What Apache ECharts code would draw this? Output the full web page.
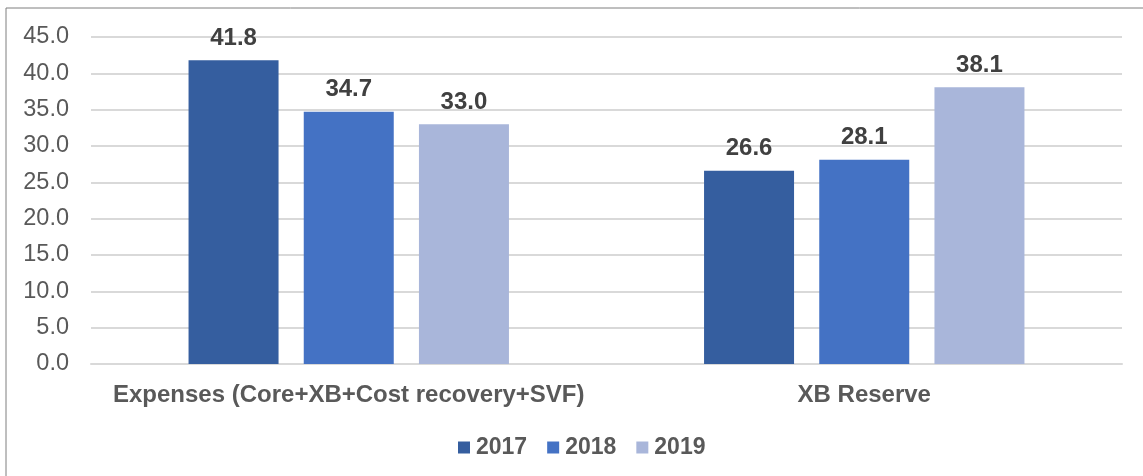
<!DOCTYPE html>
<html>
<head>
<meta charset="utf-8">
<script src="https://cdn.jsdelivr.net/npm/echarts@6/dist/echarts.min.js"></script>
<style>
  html, body { margin: 0; padding: 0; background: #fff; }
  #main { width: 1143px; height: 476px; }
</style>
</head>
<body>
<div id="main"></div>
<script>
var categories = ['Expenses (Core+XB+Cost recovery+SVF)', 'XB Reserve'];
var years = ['2017', '2018', '2019'];
var values2017 = [41.8, 26.6];
var values2018 = [34.7, 28.1];
var values2019 = [33.0, 38.1];
var colors = ['#355E9F', '#4472C4', '#A9B6DA'];

var myChart = echarts.init(document.getElementById('main'));
var font = 'Liberation Sans, Arial, sans-serif';

function makeSeries(name, data, idx) {
  return {
    name: name,
    type: 'bar',
    data: data,
    barWidth: 90,
    barGap: '28%',
    itemStyle: { color: colors[idx] },
    label: {
      show: true,
      position: 'top',
      distance: 10,
      formatter: function (p) { return p.value.toFixed(1); },
      fontFamily: font,
      fontWeight: 'bold',
      fontSize: 24,
      color: '#404040'
    }
  };
}

var option = {
  animation: false,
  textStyle: { fontFamily: font },
  graphic: [{
    type: 'rect',
    shape: { x: 6, y: 8, width: 1150, height: 480 },
    style: { fill: 'none', stroke: '#7f7f7f', lineWidth: 1 },
    silent: true
  }],
  legend: {
    top: 431,
    left: 453,
    itemWidth: 12,
    itemHeight: 12,
    itemGap: 20,
    icon: 'rect',
    textStyle: { fontFamily: font, fontWeight: 'bold', fontSize: 23, color: '#595959', padding: [0, 0, 0, 1] },
    data: years
  },
  grid: { left: 91, right: 21, top: 37, bottom: 112 },
  xAxis: {
    type: 'category',
    data: categories,
    axisTick: { show: false },
    axisLine: { lineStyle: { color: '#d9d9d9', width: 2 } },
    axisLabel: {
      interval: 0,
      fontFamily: font,
      fontWeight: 'bold',
      fontSize: 24,
      color: '#595959',
      margin: 19
    }
  },
  yAxis: {
    type: 'value',
    min: 0,
    max: 45,
    interval: 5,
    axisLine: { show: false },
    axisTick: { show: false },
    splitLine: { lineStyle: { color: '#d9d9d9', width: 2 } },
    axisLabel: {
      fontFamily: font,
      fontSize: 23.5,
      color: '#595959',
      margin: 22,
      formatter: function (v) { return v.toFixed(1); }
    }
  },
  series: [
    makeSeries(years[0], values2017, 0),
    makeSeries(years[1], values2018, 1),
    makeSeries(years[2], values2019, 2)
  ]
};
myChart.setOption(option);
</script>
</body>
</html>
